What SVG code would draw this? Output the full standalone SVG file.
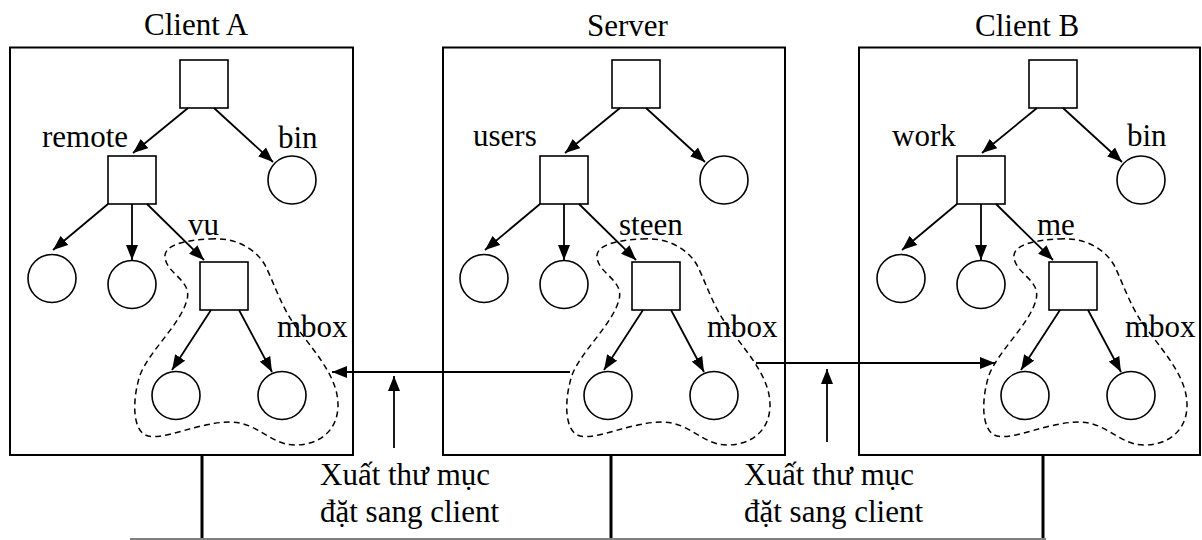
<svg xmlns="http://www.w3.org/2000/svg" width="1202" height="540" viewBox="0 0 1202 540">
<style>
.box{fill:none;stroke:#000;stroke-width:2}
.sq,.ci{fill:#fff;stroke:#000;stroke-width:1.6}
.ln{fill:none;stroke:#000;stroke-width:1.8;marker-end:url(#ah)}
.blob{fill:none;stroke:#000;stroke-width:1.5;stroke-dasharray:6 4}
.bus{stroke:#000;stroke-width:3}
.t{font-family:'Liberation Serif','DejaVu Serif',serif;font-size:31px;fill:#000}
</style>
<defs>
<marker id="ah" markerUnits="userSpaceOnUse" markerWidth="15" markerHeight="12" refX="15" refY="6" orient="auto">
<path d="M0,0 L15,6 L0,12 Z" fill="#000"/>
</marker>
<path id="blobp" d="M210 239 C235 237,255 248,265 265 C275 285,282 310,300 332 C320 358,338 380,338 405 C338 430,320 445,295 445 C270 445,258 422,230 422 C200 422,165 440,148 436 C132 432,132 400,140 375 C150 350,180 325,187 300 C192 280,168 275,165 258 C163 245,185 240,210 239 Z"/>
</defs>
<rect width="1202" height="540" fill="#fff"/>

<g id="network">
<line class="bus" x1="202" y1="455" x2="202" y2="540"/>
<line class="bus" x1="611" y1="455" x2="611" y2="540"/>
<line class="bus" x1="1043" y1="455" x2="1043" y2="540"/>
<line x1="130" y1="539" x2="1046" y2="539" stroke="#808080" stroke-width="2"/>
</g>

<g id="clientA">
<rect class="box" x="10" y="47.5" width="343" height="407.5"/>
<text class="t" font-family="Liberation Serif" x="144" y="35">Client A</text>
</g>
<g id="server">
<rect class="box" x="443" y="47.5" width="342" height="407.5"/>
<text class="t" font-family="Liberation Serif" x="587" y="36">Server</text>
</g>
<g id="clientB">
<rect class="box" x="859" y="47.5" width="341" height="407.5"/>
<text class="t" font-family="Liberation Serif" x="975" y="36">Client B</text>
</g>

<g id="treeA">
<use href="#blobp" class="blob"/>
<g id="A-root"><rect class="sq" x="180" y="60" width="48" height="48"/></g>
<g id="A-remote"><rect class="sq" x="108" y="156" width="48" height="48"/><text class="t" font-family="Liberation Serif" x="42" y="147">remote</text></g>
<g id="A-bin"><circle class="ci" cx="292" cy="180" r="24"/><text class="t" font-family="Liberation Serif" x="278" y="148">bin</text></g>
<g id="A-leaf1"><circle class="ci" cx="52" cy="278.5" r="24"/></g>
<g id="A-leaf2"><circle class="ci" cx="132" cy="284.5" r="24"/></g>
<g id="A-vu"><rect class="sq" x="200" y="262" width="48" height="48"/><text class="t" font-family="Liberation Serif" x="188" y="235">vu</text></g>
<g id="A-leaf3"><circle class="ci" cx="176" cy="395.5" r="24"/></g>
<g id="A-leaf4"><circle class="ci" cx="282" cy="395.5" r="24"/><text class="t" font-family="Liberation Serif" x="277" y="337">mbox</text></g>
</g>

<g id="treeS" transform="translate(432,0)">
<use href="#blobp" class="blob"/>
<g id="S-root"><rect class="sq" x="180" y="60" width="48" height="48"/></g>
<g id="S-users"><rect class="sq" x="108" y="156" width="48" height="48"/><text class="t" font-family="Liberation Serif" x="41" y="146">users</text></g>
<g id="S-right"><circle class="ci" cx="292" cy="180" r="24"/></g>
<g id="S-leaf1"><circle class="ci" cx="52" cy="278.5" r="24"/></g>
<g id="S-leaf2"><circle class="ci" cx="132" cy="284.5" r="24"/></g>
<g id="S-steen"><rect class="sq" x="200" y="262" width="48" height="48"/><text class="t" font-family="Liberation Serif" x="187" y="235">steen</text></g>
<g id="S-leaf3"><circle class="ci" cx="176" cy="395.5" r="24"/></g>
<g id="S-leaf4"><circle class="ci" cx="282" cy="395.5" r="24"/><text class="t" font-family="Liberation Serif" x="275" y="337">mbox</text></g>
</g>

<g id="treeB" transform="translate(849,0)">
<use href="#blobp" class="blob"/>
<g id="B-root"><rect class="sq" x="180" y="60" width="48" height="48"/></g>
<g id="B-work"><rect class="sq" x="108" y="156" width="48" height="48"/><text class="t" font-family="Liberation Serif" x="43" y="146">work</text></g>
<g id="B-bin"><circle class="ci" cx="292" cy="180" r="24"/><text class="t" font-family="Liberation Serif" x="278" y="146">bin</text></g>
<g id="B-leaf1"><circle class="ci" cx="52" cy="278.5" r="24"/></g>
<g id="B-leaf2"><circle class="ci" cx="132" cy="284.5" r="24"/></g>
<g id="B-me"><rect class="sq" x="200" y="262" width="48" height="48"/><text class="t" font-family="Liberation Serif" x="188" y="235">me</text></g>
<g id="B-leaf3"><circle class="ci" cx="176" cy="395.5" r="24"/></g>
<g id="B-leaf4"><circle class="ci" cx="282" cy="395.5" r="24"/><text class="t" font-family="Liberation Serif" x="276" y="337">mbox</text></g>
</g>

<g id="connectors">
<g id="edgesA">
<line class="ln" x1="188" y1="108" x2="133" y2="153"/>
<line class="ln" x1="214" y1="108" x2="273" y2="162"/>
<line class="ln" x1="108" y1="204" x2="53" y2="250"/>
<line class="ln" x1="132" y1="204" x2="132" y2="260"/>
<line class="ln" x1="147" y1="204" x2="204" y2="260"/>
<line class="ln" x1="211" y1="310" x2="172" y2="370"/>
<line class="ln" x1="239" y1="310" x2="272" y2="372"/>
</g>
<g id="edgesS" transform="translate(432,0)">
<line class="ln" x1="188" y1="108" x2="133" y2="153"/>
<line class="ln" x1="214" y1="108" x2="273" y2="162"/>
<line class="ln" x1="108" y1="204" x2="53" y2="250"/>
<line class="ln" x1="132" y1="204" x2="132" y2="260"/>
<line class="ln" x1="147" y1="204" x2="204" y2="260"/>
<line class="ln" x1="211" y1="310" x2="172" y2="370"/>
<line class="ln" x1="239" y1="310" x2="272" y2="372"/>
</g>
<g id="edgesB" transform="translate(849,0)">
<line class="ln" x1="188" y1="108" x2="133" y2="153"/>
<line class="ln" x1="214" y1="108" x2="273" y2="162"/>
<line class="ln" x1="108" y1="204" x2="53" y2="250"/>
<line class="ln" x1="132" y1="204" x2="132" y2="260"/>
<line class="ln" x1="147" y1="204" x2="204" y2="260"/>
<line class="ln" x1="211" y1="310" x2="172" y2="370"/>
<line class="ln" x1="239" y1="310" x2="272" y2="372"/>
</g>
<line class="ln" x1="570" y1="372" x2="332" y2="372"/>
<line class="ln" x1="756" y1="363" x2="995" y2="363"/>
<line class="ln" x1="394" y1="448" x2="394" y2="376"/>
<line class="ln" x1="827" y1="442" x2="827" y2="369"/>
</g>

<g id="export1">
<text class="t" font-family="Liberation Serif" x="320" y="485">Xuất thư mục</text>
<text class="t" font-family="Liberation Serif" x="320" y="522">đặt sang client</text>
</g>
<g id="export2">
<text class="t" font-family="Liberation Serif" x="744" y="485">Xuất thư mục</text>
<text class="t" font-family="Liberation Serif" x="744" y="522">đặt sang client</text>
</g>
</svg>
